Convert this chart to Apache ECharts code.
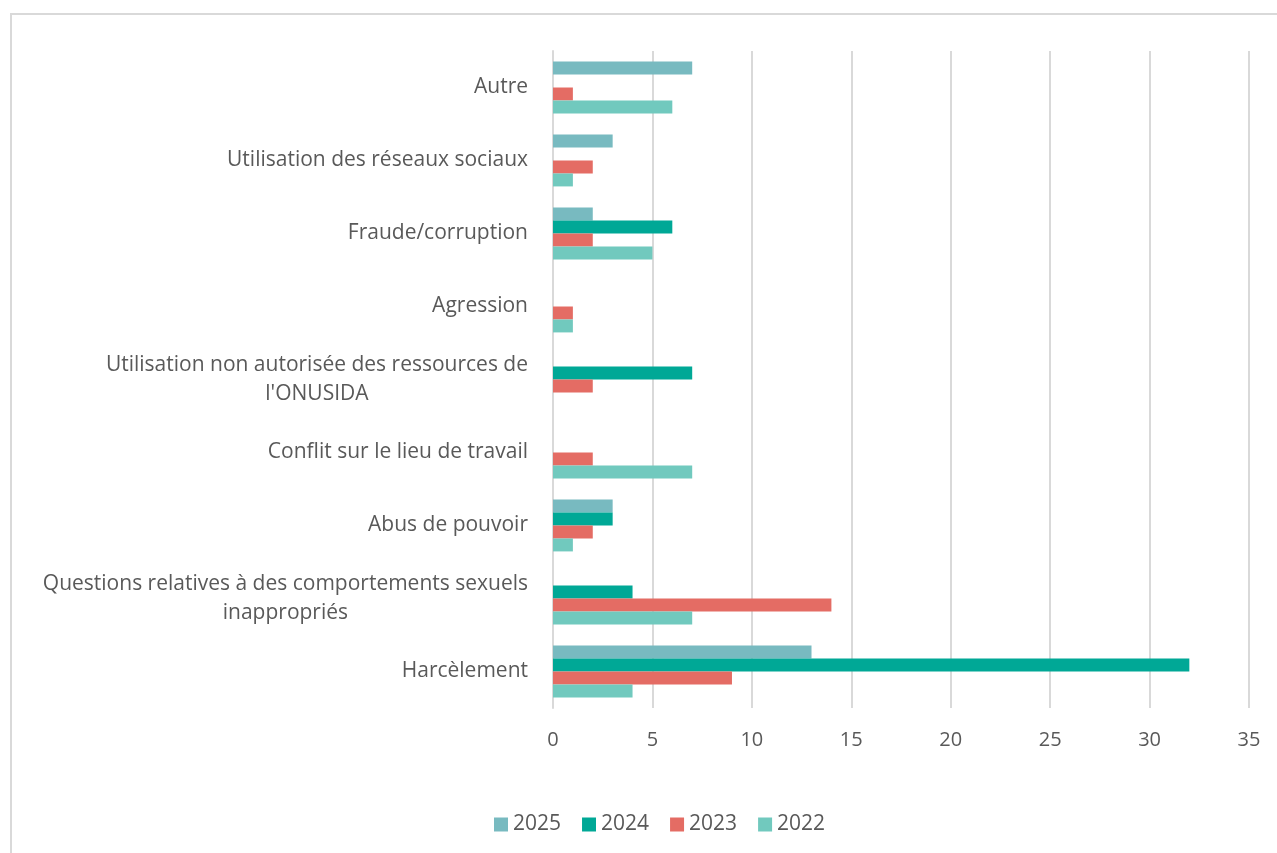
<!DOCTYPE html>
<html>
<head>
<meta charset="utf-8">
<script src="https://cdn.jsdelivr.net/npm/echarts@6/dist/echarts.min.js"></script>
<style>
  html, body { margin: 0; padding: 0; background: #fff; overflow: hidden; }
  #frame { position: absolute; left: 10px; top: 13px; width: 1400px; height: 1000px; border: 2px solid #d9d9d9; box-sizing: border-box; }
  #chart { position: absolute; left: 0; top: 0; width: 1277px; height: 853px; }
</style>
</head>
<body>
<div id="frame"></div>
<div id="chart"></div>
<script>
// categories, bottom to top (category axis starts at the bottom)
const categories = [
  'Harcèlement',
  'Questions relatives à des comportements sexuels\ninappropriés',
  'Abus de pouvoir',
  'Conflit sur le lieu de travail',
  "Utilisation non autorisée des ressources de\nl'ONUSIDA",
  'Agression',
  'Fraude/corruption',
  'Utilisation des réseaux sociaux',
  'Autre'
]
const years = ['2025', '2024', '2023', '2022']
const v2025 = [13, 0, 3, 0, 0, 0, 2, 3, 7]
const v2024 = [32, 4, 3, 0, 7, 0, 6, 0, 0]
const v2023 = [9, 14, 2, 2, 2, 1, 2, 2, 1]
const v2022 = [4, 7, 1, 7, 0, 1, 5, 1, 6]
const xTicks = [0, 5, 10, 15, 20, 25, 30, 35]

const colors = { '2025': '#78bac0', '2024': '#00a896', '2023': '#e46c64', '2022': '#71c9be' }
const textColor = '#595959'
const font = '"Open Sans", sans-serif'

const chart = echarts.init(document.getElementById('chart'))

function bar(name, data) {
  return {
    name, type: 'bar', data,
    itemStyle: { color: colors[name] },
    barGap: '0%', barCategoryGap: '29%',
    silent: true
  }
}

chart.setOption({
  backgroundColor: 'transparent',
  animation: false,
  textStyle: { fontFamily: font },
  grid: { left: 553, right: 28, top: 51, bottom: 145 },
  legend: {
    data: years,
    bottom: 13,
    left: 489,
    itemWidth: 14, itemHeight: 14, itemGap: 21,
    icon: 'rect',
    textStyle: { color: textColor, fontSize: 21, fontFamily: font }
  },
  xAxis: {
    type: 'value',
    min: xTicks[0], max: xTicks[xTicks.length - 1], interval: 5,
    axisLine: { show: false },
    axisTick: { show: false },
    axisLabel: { color: textColor, fontSize: 20, margin: 22, fontFamily: font },
    splitLine: { lineStyle: { color: '#d9d9d9', width: 2 } }
  },
  yAxis: {
    type: 'category',
    data: categories,
    axisLine: { lineStyle: { color: '#d9d9d9', width: 2 } },
    axisTick: { show: false },
    axisLabel: {
      color: textColor, fontSize: 21, margin: 25, lineHeight: 29, fontFamily: font,
      formatter: v => v.split('\n').map(l => '{c|' + l + '}').join('\n'),
      rich: { c: { align: 'center', color: textColor, fontSize: 21, lineHeight: 29, fontFamily: font } }
    }
  },
  series: [bar('2025', v2025), bar('2024', v2024), bar('2023', v2023), bar('2022', v2022)]
})
</script>
</body>
</html>
